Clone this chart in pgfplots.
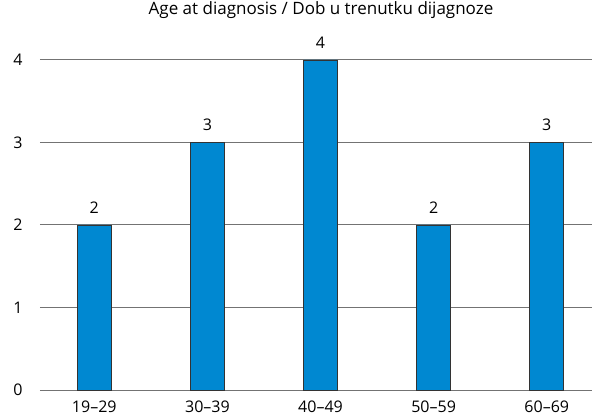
\documentclass[border=0pt]{standalone}
\usepackage{pgfplots}
\pgfplotsset{compat=1.18}
\usepackage{fontspec}
\setmainfont{Open Sans}
\definecolor{barblue}{RGB}{0,136,209}
\definecolor{gridgray}{RGB}{115,115,115}
\begin{document}
\fontsize{16}{18}\selectfont
\begin{tikzpicture}
\path[use as bounding box] (0,0) rectangle (592pt,418pt);
\begin{axis}[
  at={(40pt,28pt)}, anchor=south west,
  scale only axis, width=552pt, height=330pt,
  xmin=-0.48, xmax=4.4, ymin=0, ymax=4,
  axis line style={draw=none},
  ytick={0,1,2,3,4}, xtick=data,
  xticklabels={19--29,30--39,40--49,50--59,60--69},
  ymajorgrids, grid style={gridgray, line width=1pt},
  major tick length=0pt,
  yticklabel style={anchor=east, xshift=-12pt},
  xticklabel style={anchor=north, yshift=-5pt},
  /pgf/number format/assume math mode=true,
  ticklabel style={font=\fontsize{16}{18}\selectfont},
  title={Age at diagnosis / Dob u trenutku dijagnoze},
  title style={at={(axis description cs:0.5,1)}, anchor=south, yshift=30pt, xshift=5pt, font=\fontsize{17}{19}\selectfont},
  clip=false,
]
\addplot[ybar, bar width=34pt, fill=barblue, draw=black!80, line width=0.7pt,
  nodes near coords, nodes near coords style={font=\fontsize{16}{18}\selectfont, yshift=6pt}]
  coordinates {(0,2) (1,3) (2,4) (3,2) (4,3)};
\end{axis}
\end{tikzpicture}
\end{document}
